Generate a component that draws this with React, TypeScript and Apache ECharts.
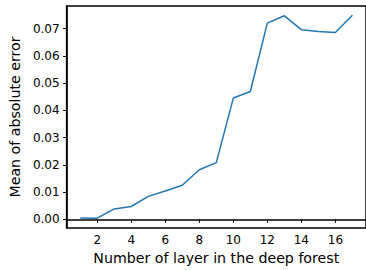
import React, { useEffect, useRef } from "react";
import * as echarts from "echarts";

const layers = [1, 2, 3, 4, 5, 6, 7, 8, 9, 10, 11, 12, 13, 14, 15, 16, 17];
const maeValues = [
  0.0005, 0.0004, 0.0038, 0.0047, 0.0084, 0.0104, 0.0125, 0.0182, 0.0208,
  0.0445, 0.0469, 0.072, 0.0747, 0.0696, 0.0689, 0.0686, 0.0749,
];
const xTicks = [2, 4, 6, 8, 10, 12, 14, 16];
const yTicks = [0, 0.01, 0.02, 0.03, 0.04, 0.05, 0.06, 0.07];

const FONT = "DejaVu Sans";

export default function App() {
  const ref = useRef<HTMLDivElement>(null);
  useEffect(() => {
    if (!ref.current) return;
    const chart = echarts.init(ref.current, undefined, { renderer: "svg" });
    chart.setOption({
      animation: false,
      grid: {
        left: 64,
        top: 6,
        width: 313,
        height: 227,
        show: true,
        borderColor: "#000",
        borderWidth: 1.5,
        containLabel: false,
      },
      xAxis: {
        type: "value",
        min: 0.2,
        max: 17.8,
        name: "Number of layer in the deep forest",
        nameLocation: "middle",
        nameGap: 23,
        nameTextStyle: { fontFamily: FONT, fontSize: 14.2, color: "#000" },
        axisLine: { show: true, lineStyle: { color: "#000", width: 1.5 } },
        axisTick: {
          show: true,
          length: 3.5,
          customValues: xTicks,
          lineStyle: { color: "#000", width: 1 },
        },
        axisLabel: {
          customValues: xTicks,
          fontFamily: FONT,
          fontSize: 12,
          color: "#000",
          margin: 6,
        },
        splitLine: { show: false },
      },
      yAxis: {
        type: "value",
        min: -0.0032,
        max: 0.0783,
        name: "Mean of absolute error",
        nameLocation: "middle",
        nameGap: 34,
        nameTextStyle: { fontFamily: FONT, fontSize: 14.2, color: "#000" },
        axisLine: { show: true, lineStyle: { color: "#000", width: 1.5 } },
        axisTick: {
          show: true,
          length: 3.5,
          customValues: yTicks,
          lineStyle: { color: "#000", width: 1 },
        },
        axisLabel: {
          customValues: yTicks,
          fontFamily: FONT,
          fontSize: 12,
          color: "#000",
          margin: 7,
          formatter: (v: number) => v.toFixed(2),
        },
        splitLine: { show: false },
      },
      series: [
        {
          type: "line",
          data: layers.map((x, i) => [x, maeValues[i]]),
          showSymbol: false,
          symbol: "none",
          lineStyle: { color: "#1f77b4", width: 1.5 },
        },
      ],
    });
    return () => chart.dispose();
  }, []);
  return <div ref={ref} style={{ width: 366, height: 270, position: "absolute", left: 0, top: 0 }} />;
}
